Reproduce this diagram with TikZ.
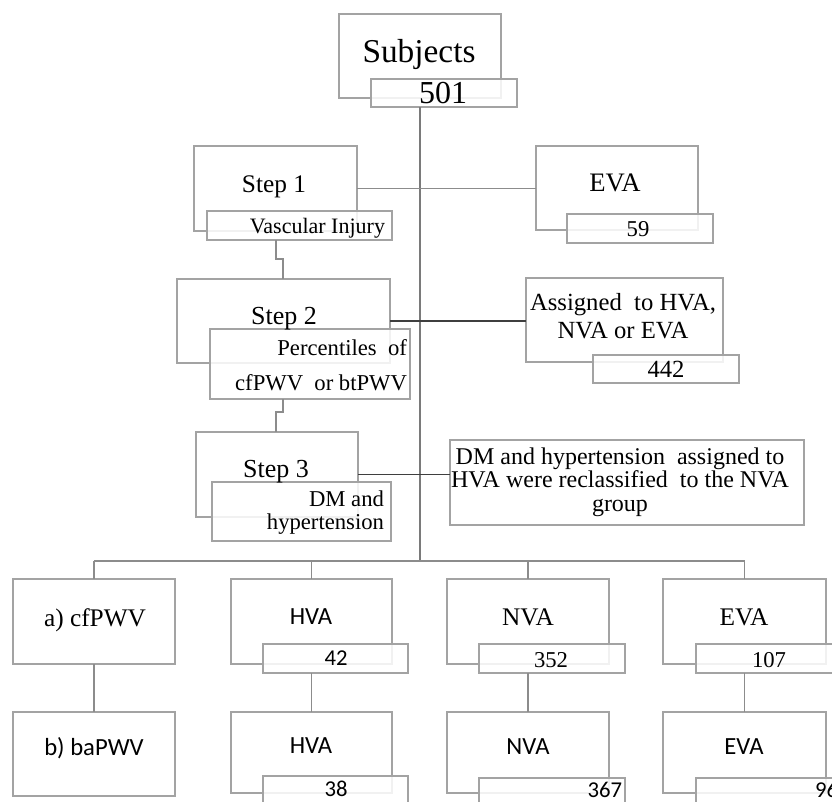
\documentclass[tikz,border=0pt]{standalone}
\usepackage{fontspec}
\setmainfont{Liberation Serif}
\newfontfamily\calibrif{Carlito}
\usetikzlibrary{fit}
\definecolor{boxgray}{HTML}{A3A3A3}
\definecolor{linegray}{HTML}{8C8C8C}
\definecolor{trunkgray}{HTML}{7A7A7A}
\definecolor{darkline}{HTML}{3F3F3F}
\newcommand{\myfs}[1]{\fontsize{#1}{#1}\selectfont}
\tikzset{
  bx/.style={draw=boxgray, line width=0.8pt, inner sep=0pt, outer sep=0pt, fill=white},
  sbx/.style={bx, fill opacity=0.85},
  ln/.style={draw=linegray, line width=0.8pt},
  dk/.style={draw=darkline, line width=0.9pt},
  tx/.style={inner sep=0pt, outer sep=0pt, text=black},
}
\begin{document}
\begin{tikzpicture}[x=0.75pt,y=-0.75pt]
\useasboundingbox (0,0) rectangle (832,801);
% ---- top part boxes
\node[bx, fit={(339,14)(501,98)}] (subj) {};
\node[sbx, fit={(371,79)(517,107)}] (n501) {};
\node[bx, fit={(194,146)(357,231)}] (s1) {};
\node[sbx, fit={(207,211)(392,240)}] (vi) {};
\node[bx, fit={(536,146)(698,230)}] (eva1) {};
\node[sbx, fit={(567,214)(713,243)}] (n59) {};
\node[bx, fit={(177,279)(390,363)}] (s2) {};
\node[sbx, fit={(210,329)(410,399)}] (pct) {};
\node[bx, fit={(526,278)(723,362)}] (asg) {};
\node[sbx, fit={(593,355)(739,383)}] (n442) {};
\node[bx, fit={(196,432)(358,517)}] (s3) {};
\node[sbx, fit={(212,482)(391,541)}] (dmh) {};
\node[bx, fit={(450,440)(804,525)}] (dmr) {};
% ---- bottom rows
\node[bx, fit={(13,579)(175,664)}] (cf) {};
\node[bx, fit={(231,579)(392,664)}] (hva1) {};
\node[sbx, fit={(263,644)(408,673)}] (n42) {};
\node[bx, fit={(447,579)(609,664)}] (nva1) {};
\node[sbx, fit={(479,644)(625,673)}] (n352) {};
\node[bx, fit={(663,579)(826,664)}] (eva2) {};
\node[sbx, fit={(696,644)(841,673)}] (n107) {};
\node[bx, fit={(13,712)(175,796)}] (ba) {};
\node[bx, fit={(231,712)(392,793)}] (hva2) {};
\node[sbx, fit={(263,776)(408,806)}] (n38) {};
\node[bx, fit={(447,712)(609,793)}] (nva2) {};
\node[sbx, fit={(479,778)(625,807)}] (n367) {};
\node[bx, fit={(663,712)(826,793)}] (eva3) {};
\node[sbx, fit={(696,778)(841,807)}] (n96) {};
% ---- connectors
\coordinate (trunk) at (420,561);
\draw[ln, draw=trunkgray] (trunk |- n501.south) -- (trunk);
\draw[ln] (s1.east) -- (s1.east -| eva1.west);
\draw[dk] (s2.east) -- (s2.east -| asg.west);
\draw[dk] (s3.east) -- (s3.east -| dmr.west);
\coordinate (ja) at (276,259); \coordinate (jb) at (283,259);
\draw[ln] (vi.south -| ja) -- (ja) -- (jb) -- (s2.north -| jb);
\coordinate (jc) at (283,412); \coordinate (jd) at (276,412);
\draw[ln] (pct.south -| jc) -- (jc) -- (jd) -- (s3.north -| jd);
\draw[ln] (cf.north |- trunk) -- (eva2.north |- trunk);
\foreach \b in {cf,hva1,nva1,eva2} \draw[ln] (\b.north |- trunk) -- (\b.north);
\draw[ln] (cf.south) -- (ba.north);
\draw[ln] (n42.south -| hva1.north) -- (hva2.north);
\draw[ln] (n352.south -| nva1.north) -- (nva2.north);
\draw[ln] (n107.south -| eva2.north) -- (eva3.north);
% ---- texts
\node[tx, anchor=base, font=\myfs{25}] (tsubj) at (419,62) {Subjects};
\node[tx, anchor=base, font=\myfs{24}] (t501) at (443,103) {501};
\node[tx, anchor=base, font=\myfs{19}] (ts1) at (274,192) {Step 1};
\node[tx, anchor=base east, font=\myfs{16.5}] (tvi) at (385,233) {Vascular Injury};
\node[tx, anchor=base, font=\myfs{20}] (teva1) at (615,191) {EVA};
\node[tx, anchor=base, font=\myfs{17}] (t59) at (638,236) {59};
\node[tx, anchor=base, font=\myfs{19.5}] (ts2) at (284,324) {Step 2};
\node[tx, anchor=east, align=right, font=\fontsize{17}{26.25}\selectfont] (tpct) at (407,365) {Percentiles\ \ of\\cfPWV\ \ or btPWV};
\node[tx, align=center, font=\fontsize{18.5}{21}\selectfont] (tasg) at (623,316) {Assigned\ \ to HVA,\\NVA or EVA};
\node[tx, anchor=base, font=\myfs{18.5}] (t442) at (666,377) {442};
\node[tx, anchor=base, font=\myfs{19.5}] (ts3) at (276,477) {Step 3};
\node[tx, anchor=east, align=right, font=\fontsize{17}{17.25}\selectfont] (tdmh) at (384,513) {DM and\\hypertension};
\node[tx, align=center, font=\fontsize{18}{17.5}\selectfont] (tdmr) at (620,482) {DM and hypertension\ \ assigned to\\HVA were reclassified\ \ to the NVA\\group};
\node[tx, anchor=base, font=\myfs{19}] (tcf) at (95,626) {a) cfPWV};
\node[tx, anchor=base, font=\calibrif\myfs{18.5}] (thva1) at (311,624) {HVA};
\node[tx, anchor=base, font=\calibrif\myfs{17}] (t42) at (336,665) {42};
\node[tx, anchor=base, font=\myfs{19}] (tnva1) at (528,625) {NVA};
\node[tx, anchor=base, font=\myfs{17}] (t352) at (551,667) {352};
\node[tx, anchor=base, font=\myfs{19}] (teva2) at (744,625) {EVA};
\node[tx, anchor=base, font=\myfs{17}] (t107) at (769,667) {107};
\node[tx, anchor=base, font=\calibrif\myfs{18.5}] (tba) at (94,755) {b) baPWV};
\node[tx, anchor=base, font=\calibrif\myfs{18.5}] (thva2) at (311,753) {HVA};
\node[tx, anchor=base, font=\calibrif\myfs{17}] (t38) at (336,796) {38};
\node[tx, anchor=base, font=\calibrif\myfs{18.5}] (tnva2) at (528,754) {NVA};
\node[tx, anchor=base east, font=\calibrif\myfs{17}] (t367) at (622,797) {367};
\node[tx, anchor=base, font=\calibrif\myfs{18.5}] (teva3) at (744,754) {EVA};
\node[tx, anchor=base east, font=\calibrif\myfs{17}] (t96) at (838,797) {96};
\end{tikzpicture}
\end{document}
